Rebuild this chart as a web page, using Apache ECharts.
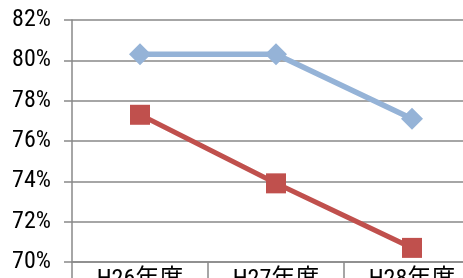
<!DOCTYPE html>
<html><head><meta charset="utf-8">
<script src="https://cdn.jsdelivr.net/npm/echarts@6/dist/echarts.min.js"></script>
<style>html,body{margin:0;padding:0;background:#fff}#c{width:463px;height:278px}</style>
</head><body><div id="c"></div>
<script>
const categories = ['H26年度', 'H27年度', 'H28年度'];
const seriesBlue = [80.3, 80.3, 77.1];
const seriesRed = [77.3, 73.9, 70.7];
const yMin = 70, yMax = 82, yStep = 2;

const font = "'Roboto Condensed', 'Noto Sans CJK JP', sans-serif";
const chart = echarts.init(document.getElementById('c'), null, {renderer: 'canvas'});
chart.setOption({
  animation: false,
  grid: {left: 72, top: 20, width: 408, height: 242, containLabel: false, outerBoundsMode: 'none'},
  xAxis: {
    type: 'category', data: categories, boundaryGap: true,
    axisLine: {lineStyle: {color: '#898989', width: 1.5}},
    axisTick: {show: true, length: 20, alignWithLabel: false, lineStyle: {color: '#898989', width: 1.5}},
    axisLabel: {color: '#000', fontSize: 24, fontFamily: font, margin: 6, hideOverlap: false}
  },
  yAxis: {
    type: 'value', min: yMin, max: yMax, interval: yStep,
    axisLine: {show: true, lineStyle: {color: '#898989', width: 1.5}},
    axisTick: {show: true, length: 8, lineStyle: {color: '#898989', width: 1.5}},
    splitLine: {show: true, lineStyle: {color: '#898989', width: 1.5}},
    axisLabel: {color: '#000', fontSize: 24, fontFamily: font, margin: 21, formatter: v => v + '%'}
  },
  series: [
    {type: 'line', data: seriesBlue, symbol: 'diamond', symbolSize: 22,
     lineStyle: {color: '#95B3D7', width: 5.5}, itemStyle: {color: '#95B3D7'}},
    {type: 'line', data: seriesRed, symbol: 'rect', symbolSize: 20,
     lineStyle: {color: '#C0504D', width: 5}, itemStyle: {color: '#C0504D'}}
  ]
});
</script></body></html>
